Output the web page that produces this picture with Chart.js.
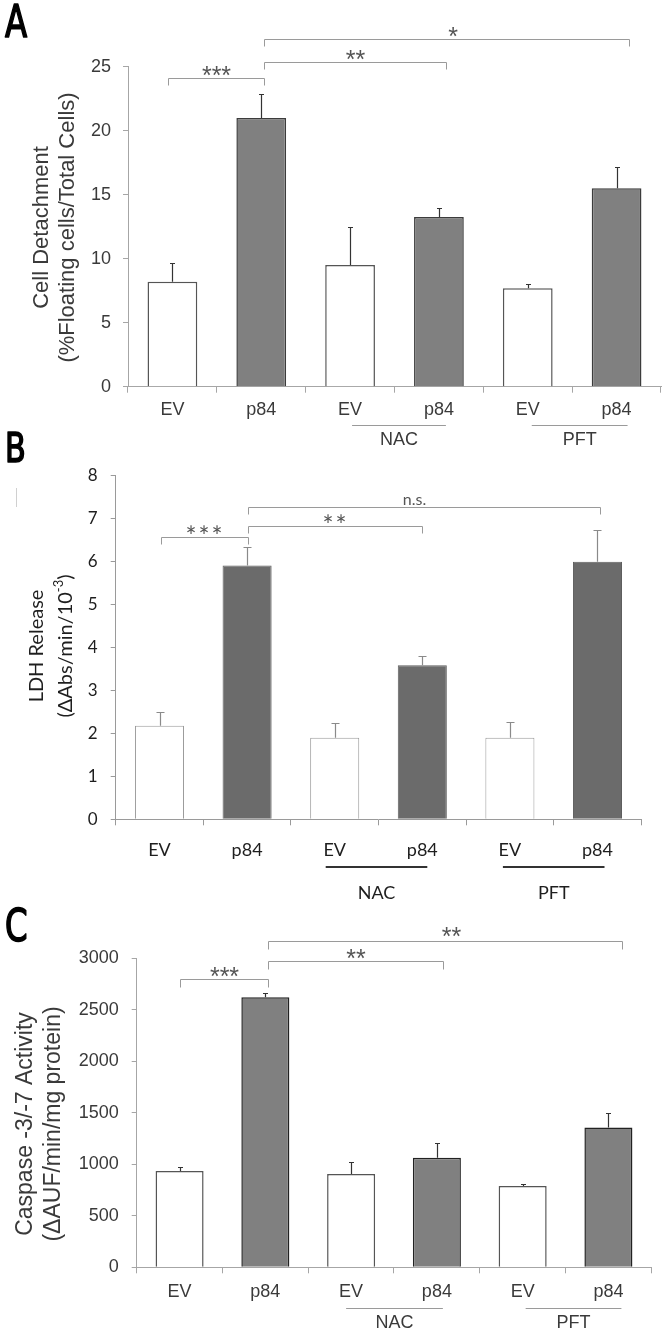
<!DOCTYPE html>
<html><head><meta charset="utf-8">
<script src="https://cdn.jsdelivr.net/npm/chart.js@4.4.1/dist/chart.umd.min.js"></script>
<style>
html,body{margin:0;padding:0;background:#fff;}
#wrap{position:relative;width:666px;height:1335px;background:#fff;}
canvas{position:absolute;left:0;top:0;}
</style></head><body>
<div id="wrap">
<canvas id="cA" width="666" height="1335"></canvas>
<canvas id="cB" width="666" height="1335"></canvas>
<canvas id="cC" width="666" height="1335"></canvas>
</div>
<script>
// ---------- data ----------
const categories = ['EV', 'p84', 'EV', 'p84', 'EV', 'p84'];
const groupNames = ['NAC', 'PFT'];

const detachment    = [8.2, 21.0, 9.5, 13.25, 7.7, 15.5];
const detachmentErr = [9.7, 22.9, 12.45, 14.0, 8.0, 17.2];
const ticksA = [0, 5, 10, 15, 20, 25];
const sigA = [
  {from: 0, to: 1, level: 24.1, label: '***'},
  {from: 1, to: 3, level: 25.4, label: '**'},
  {from: 1, to: 5, level: 27.2, label: '*'}
];

const ldh    = [2.18, 5.91, 1.90, 3.59, 1.90, 6.00];
const ldhErr = [2.49, 6.34, 2.25, 3.81, 2.26, 6.74];
const ticksB = [0, 1, 2, 3, 4, 5, 6, 7, 8];
const sigB = [
  {from: 0, to: 1, level: 6.57, label: '***'},
  {from: 1, to: 3, level: 6.83, label: '**'},
  {from: 1, to: 5, level: 7.28, label: 'n.s.'}
];

const caspase    = [936, 2624, 907, 1065, 790, 1357];
const caspaseErr = [978, 2663, 1026, 1205, 806, 1497];
const ticksC = [0, 500, 1000, 1500, 2000, 2500, 3000];
const sigC = [
  {from: 0, to: 1, level: 2802, label: '***'},
  {from: 1, to: 3, level: 2977, label: '**'},
  {from: 1, to: 5, level: 3171, label: '**'}
];

// ---------- annotation plugin ----------
const annot = {
  id: 'annot',
  afterDraw(chart, args, o) {
    const ctx = chart.ctx, xs = chart.scales.x, ys = chart.scales.y;
    const ca = chart.chartArea;
    ctx.save();
    // error bars (upper whisker only)
    const meta = chart.getDatasetMeta(0);
    ctx.strokeStyle = o.errColor; ctx.lineWidth = o.errWidth;
    meta.data.forEach((bar, i) => {
      const x = Math.round(bar.x) + 0.5;
      const y0 = bar.y;
      const y1 = Math.round(ys.getPixelForValue(o.err[i])) + 0.5;
      ctx.beginPath();
      ctx.moveTo(x, y0); ctx.lineTo(x, y1);
      ctx.moveTo(x - o.cap, y1); ctx.lineTo(x + o.cap, y1);
      ctx.stroke();
    });
    // significance brackets
    o.sig.forEach((b, k) => {
      const st = o.sigStyle[k] || {};
      const x1 = Math.round(xs.getPixelForValue(b.from) + (st.dx1 || 0)) + 0.5;
      const x2 = Math.round(xs.getPixelForValue(b.to) + (st.dx2 || 0)) + 0.5;
      const y = Math.round(ys.getPixelForValue(b.level)) + 0.5;
      ctx.strokeStyle = o.brColor; ctx.lineWidth = 1;
      ctx.beginPath();
      ctx.moveTo(x1, y + o.brTick); ctx.lineTo(x1, y); ctx.lineTo(x2, y); ctx.lineTo(x2, y + o.brTick);
      ctx.stroke();
      const isStar = b.label.indexOf('*') >= 0;
      ctx.font = isStar ? o.starFont : o.nsFont;
      ctx.letterSpacing = isStar ? o.starSpacing : '0px';
      ctx.fillStyle = o.starColor;
      ctx.textAlign = 'center'; ctx.textBaseline = 'alphabetic';
      const m = ctx.measureText(b.label);
      const cy = y - (st.ty || o.starGap);
      const base = cy + (m.actualBoundingBoxAscent - m.actualBoundingBoxDescent) / 2;
      ctx.fillText(b.label, (x1 + x2) / 2 + (st.tx || 0), base);
    });
    ctx.letterSpacing = '0px';
    // group lines + labels
    o.groups.forEach(g => {
      const x1 = xs.getPixelForValue(g.from) + g.dx1;
      const x2 = xs.getPixelForValue(g.to) + g.dx2;
      const y = Math.round(ca.bottom + o.groupLineDy) + (o.groupLineW % 2 ? 0.5 : 0);
      ctx.strokeStyle = o.groupLineColor; ctx.lineWidth = o.groupLineW;
      ctx.beginPath(); ctx.moveTo(x1, y); ctx.lineTo(x2, y); ctx.stroke();
      ctx.font = o.groupFont; ctx.fillStyle = o.textColor;
      ctx.textAlign = 'center'; ctx.textBaseline = 'middle';
      ctx.fillText(g.label, (x1 + x2) / 2 + g.tdx, ca.bottom + o.groupTextDy);
    });
    // y-axis title (rotated, possibly with superscript)
    const t = o.yTitle;
    ctx.fillStyle = o.textColor;
    t.lines.forEach((segs, li) => {
      ctx.save();
      ctx.translate(t.xs[li], t.cy);
      ctx.rotate(-Math.PI / 2);
      ctx.textBaseline = 'middle'; ctx.textAlign = 'left';
      let total = 0;
      segs.forEach(s => { ctx.font = s.sup ? t.supFont : t.font; total += ctx.measureText(s.text).width; });
      let x = -total / 2;
      segs.forEach(s => {
        ctx.font = s.sup ? t.supFont : t.font;
        ctx.fillText(s.text, x, s.sup ? -t.supRise : 0);
        x += ctx.measureText(s.text).width;
      });
      ctx.restore();
    });
    // panel letter
    const L = o.letter;
    ctx.save();
    ctx.translate(L.x, L.y);
    ctx.scale(L.sx, 1);
    ctx.font = L.font; ctx.fillStyle = '#000'; ctx.strokeStyle = '#000'; ctx.lineWidth = 1.6; ctx.lineJoin = 'round';
    ctx.textAlign = 'left'; ctx.textBaseline = 'alphabetic';
    ctx.fillText(L.text, 0, 0);
    ctx.strokeText(L.text, 0, 0);
    ctx.restore();
    if (o.extra) o.extra(ctx);
    ctx.restore();
  }
};

function makeChart(id, p) {
  const step = p.ticks[1] - p.ticks[0];
  return new Chart(document.getElementById(id), {
    type: 'bar',
    data: {
      labels: categories,
      datasets: [{
        data: p.values,
        backgroundColor: p.values.map((v, i) => i % 2 ? p.fillP84 : '#ffffff'),
        borderColor: p.values.map((v, i) => i % 2 ? p.borderP84 : p.borderEV),
        borderWidth: p.bw,
        barPercentage: 0.56,
        categoryPercentage: 1
      }]
    },
    options: {
      responsive: false, animation: false, devicePixelRatio: 1, events: [],
      layout: {padding: {left: 0, right: p.padR, top: p.padT, bottom: p.padB}},
      plugins: {legend: {display: false}, tooltip: {enabled: false}, annot: p.annot},
      scales: {
        x: {
          offset: true,
          grid: {display: true, offset: true, drawOnChartArea: false, drawTicks: true, tickLength: 6, color: p.axisColor},
          border: {display: true, color: p.axisColor, width: 1},
          ticks: {color: p.textColor, font: {family: p.font, size: p.xFont, lineHeight: 1.2}, padding: p.xPad, maxRotation: 0, autoSkip: false},
          afterFit: s => { s.height = 40; }
        },
        y: {
          min: p.ticks[0], max: p.ticks[p.ticks.length - 1],
          grid: {display: true, drawOnChartArea: false, drawTicks: true, tickLength: 5, color: p.axisColor},
          border: {display: true, color: p.axisColor, width: 1},
          ticks: {stepSize: step, color: p.textColor, font: {family: p.font, size: p.yFont}, padding: p.yPad, callback: v => String(v)},
          afterFit: s => { s.width = p.yW; }
        }
      }
    },
    plugins: [annot]
  });
}

const ARIAL = '"Liberation Sans", Arial, sans-serif';
const CALI = 'Lato, "Open Sans", sans-serif';
const NARROW = '"Liberation Sans Narrow", "DejaVu Sans Condensed", sans-serif';

// ---------- Panel A ----------
makeChart('cA', {
  values: detachment, ticks: ticksA,
  fillP84: '#808080', borderP84: '#3c3c3c', borderEV: '#555555', bw: 1.5,
  axisColor: '#a6a6a6', textColor: '#3a3a3a', font: ARIAL, xFont: 18, yFont: 18, xPad: 6.5, yPad: 12,
  yW: 128, padR: 5, padT: 66.7, padB: 1335 - 386.7 - 40,
  annot: {
    err: detachmentErr, errColor: '#333', errWidth: 1.2, cap: 2.5,
    sig: sigA, sigStyle: [{dx1: -4, dx2: 3}, {dx1: 3, dx2: 7}, {dx1: 3, dx2: 12, tx: 6}],
    brColor: '#9a9a9a', brTick: 7, starFont: '25px ' + ARIAL, nsFont: '16px ' + ARIAL, starSpacing: '0px', starColor: '#555', starGap: 8,
    groups: [{label: groupNames[0], from: 2, to: 3, dx1: 2, dx2: 7, tdx: 0}, {label: groupNames[1], from: 4, to: 5, dx1: 4, dx2: 11, tdx: 0}],
    groupLineDy: 38.3, groupLineW: 1, groupLineColor: '#9a9a9a', groupTextDy: 53.3, groupFont: '18px ' + ARIAL, textColor: '#3a3a3a',
    yTitle: {lines: [[{text: 'Cell Detachment'}], [{text: '(%Floating cells/Total Cells)'}]], xs: [41.5, 68], cy: 227.5, font: '22px ' + ARIAL, supFont: '14px ' + ARIAL, supRise: 7},
    letter: {text: 'A', x: 5, y: 37, font: '45px ' + NARROW, sx: 0.8}
  }
});

// ---------- Panel B ----------
makeChart('cB', {
  values: ldh, ticks: ticksB,
  fillP84: '#6b6b6b', borderP84: '#5e5e5e', borderEV: '#9a9a9a', bw: 1,
  axisColor: '#9a9a9a', textColor: '#1e1e1e', font: CALI, xFont: 18, yFont: 17, xPad: 13.6, yPad: 13,
  yW: 115.7, padR: 666 - 641.3, padT: 475.8, padB: 1335 - 819.3 - 40,
  annot: {
    err: ldhErr, errColor: '#8a8a8a', errWidth: 1.2, cap: 4,
    sig: sigB, sigStyle: [{dx1: 1, dx2: 1}, {dx1: 1, dx2: 0}, {dx1: 1, dx2: 3, tx: -10, ty: 7}],
    brColor: '#9a9a9a', brTick: 7, starFont: '26px ' + CALI, nsFont: '16px ' + CALI, starSpacing: '2px', starColor: '#555', starGap: 8,
    groups: [{label: groupNames[0], from: 2, to: 3, dx1: -9, dx2: 5, tdx: 0}, {label: groupNames[1], from: 4, to: 5, dx1: -7, dx2: 7, tdx: 0}],
    groupLineDy: 47.7, groupLineW: 2, groupLineColor: '#333', groupTextDy: 73.7, groupFont: '18px ' + CALI, textColor: '#1e1e1e',
    yTitle: {lines: [[{text: 'LDH Release'}], [{text: '(ΔAbs/min/10'}, {text: '-3', sup: true}, {text: ')'}]], xs: [36.5, 66], cy: 646, font: '20px ' + CALI, supFont: '13px ' + CALI, supRise: 7},
    letter: {text: 'B', x: 5, y: 462, font: '41px ' + NARROW, sx: 0.82},
    extra: ctx => { ctx.strokeStyle = '#d0d0d0'; ctx.lineWidth = 1; ctx.beginPath(); ctx.moveTo(16.5, 488); ctx.lineTo(16.5, 507); ctx.stroke(); }
  }
});

// ---------- Panel C ----------
makeChart('cC', {
  values: caspase, ticks: ticksC,
  fillP84: '#808080', borderP84: '#222222', borderEV: '#555555', bw: 1.5,
  axisColor: '#a6a6a6', textColor: '#3a3a3a', font: ARIAL, xFont: 18, yFont: 18, xPad: 8.4, yPad: 13,
  yW: 136.7, padR: 666 - 651.3, padT: 958.5, padB: 1335 - 1267.3 - 40,
  annot: {
    err: caspaseErr, errColor: '#333', errWidth: 1.2, cap: 2.5,
    sig: sigC, sigStyle: [{dx1: 0, dx2: 3}, {dx1: 3, dx2: 6}, {dx1: 3, dx2: 14, tx: 6, ty: 10}],
    brColor: '#9a9a9a', brTick: 8, starFont: '25px ' + ARIAL, nsFont: '16px ' + ARIAL, starSpacing: '0px', starColor: '#555', starGap: 8,
    groups: [{label: groupNames[0], from: 2, to: 3, dx1: -5, dx2: 6, tdx: 0}, {label: groupNames[1], from: 4, to: 5, dx1: 3, dx2: 13, tdx: 0}],
    groupLineDy: 40.7, groupLineW: 1, groupLineColor: '#9a9a9a', groupTextDy: 55.7, groupFont: '18px ' + ARIAL, textColor: '#3a3a3a',
    yTitle: {lines: [[{text: 'Caspase -3/-7 Activity'}], [{text: '(ΔAUF/min/mg protein)'}]], xs: [25.5, 53.5], cy: 1124, font: '23px ' + ARIAL, supFont: '14px ' + ARIAL, supRise: 7},
    letter: {text: 'C', x: 5, y: 941, font: '45px ' + NARROW, sx: 0.8}
  }
});
</script>
</body></html>
